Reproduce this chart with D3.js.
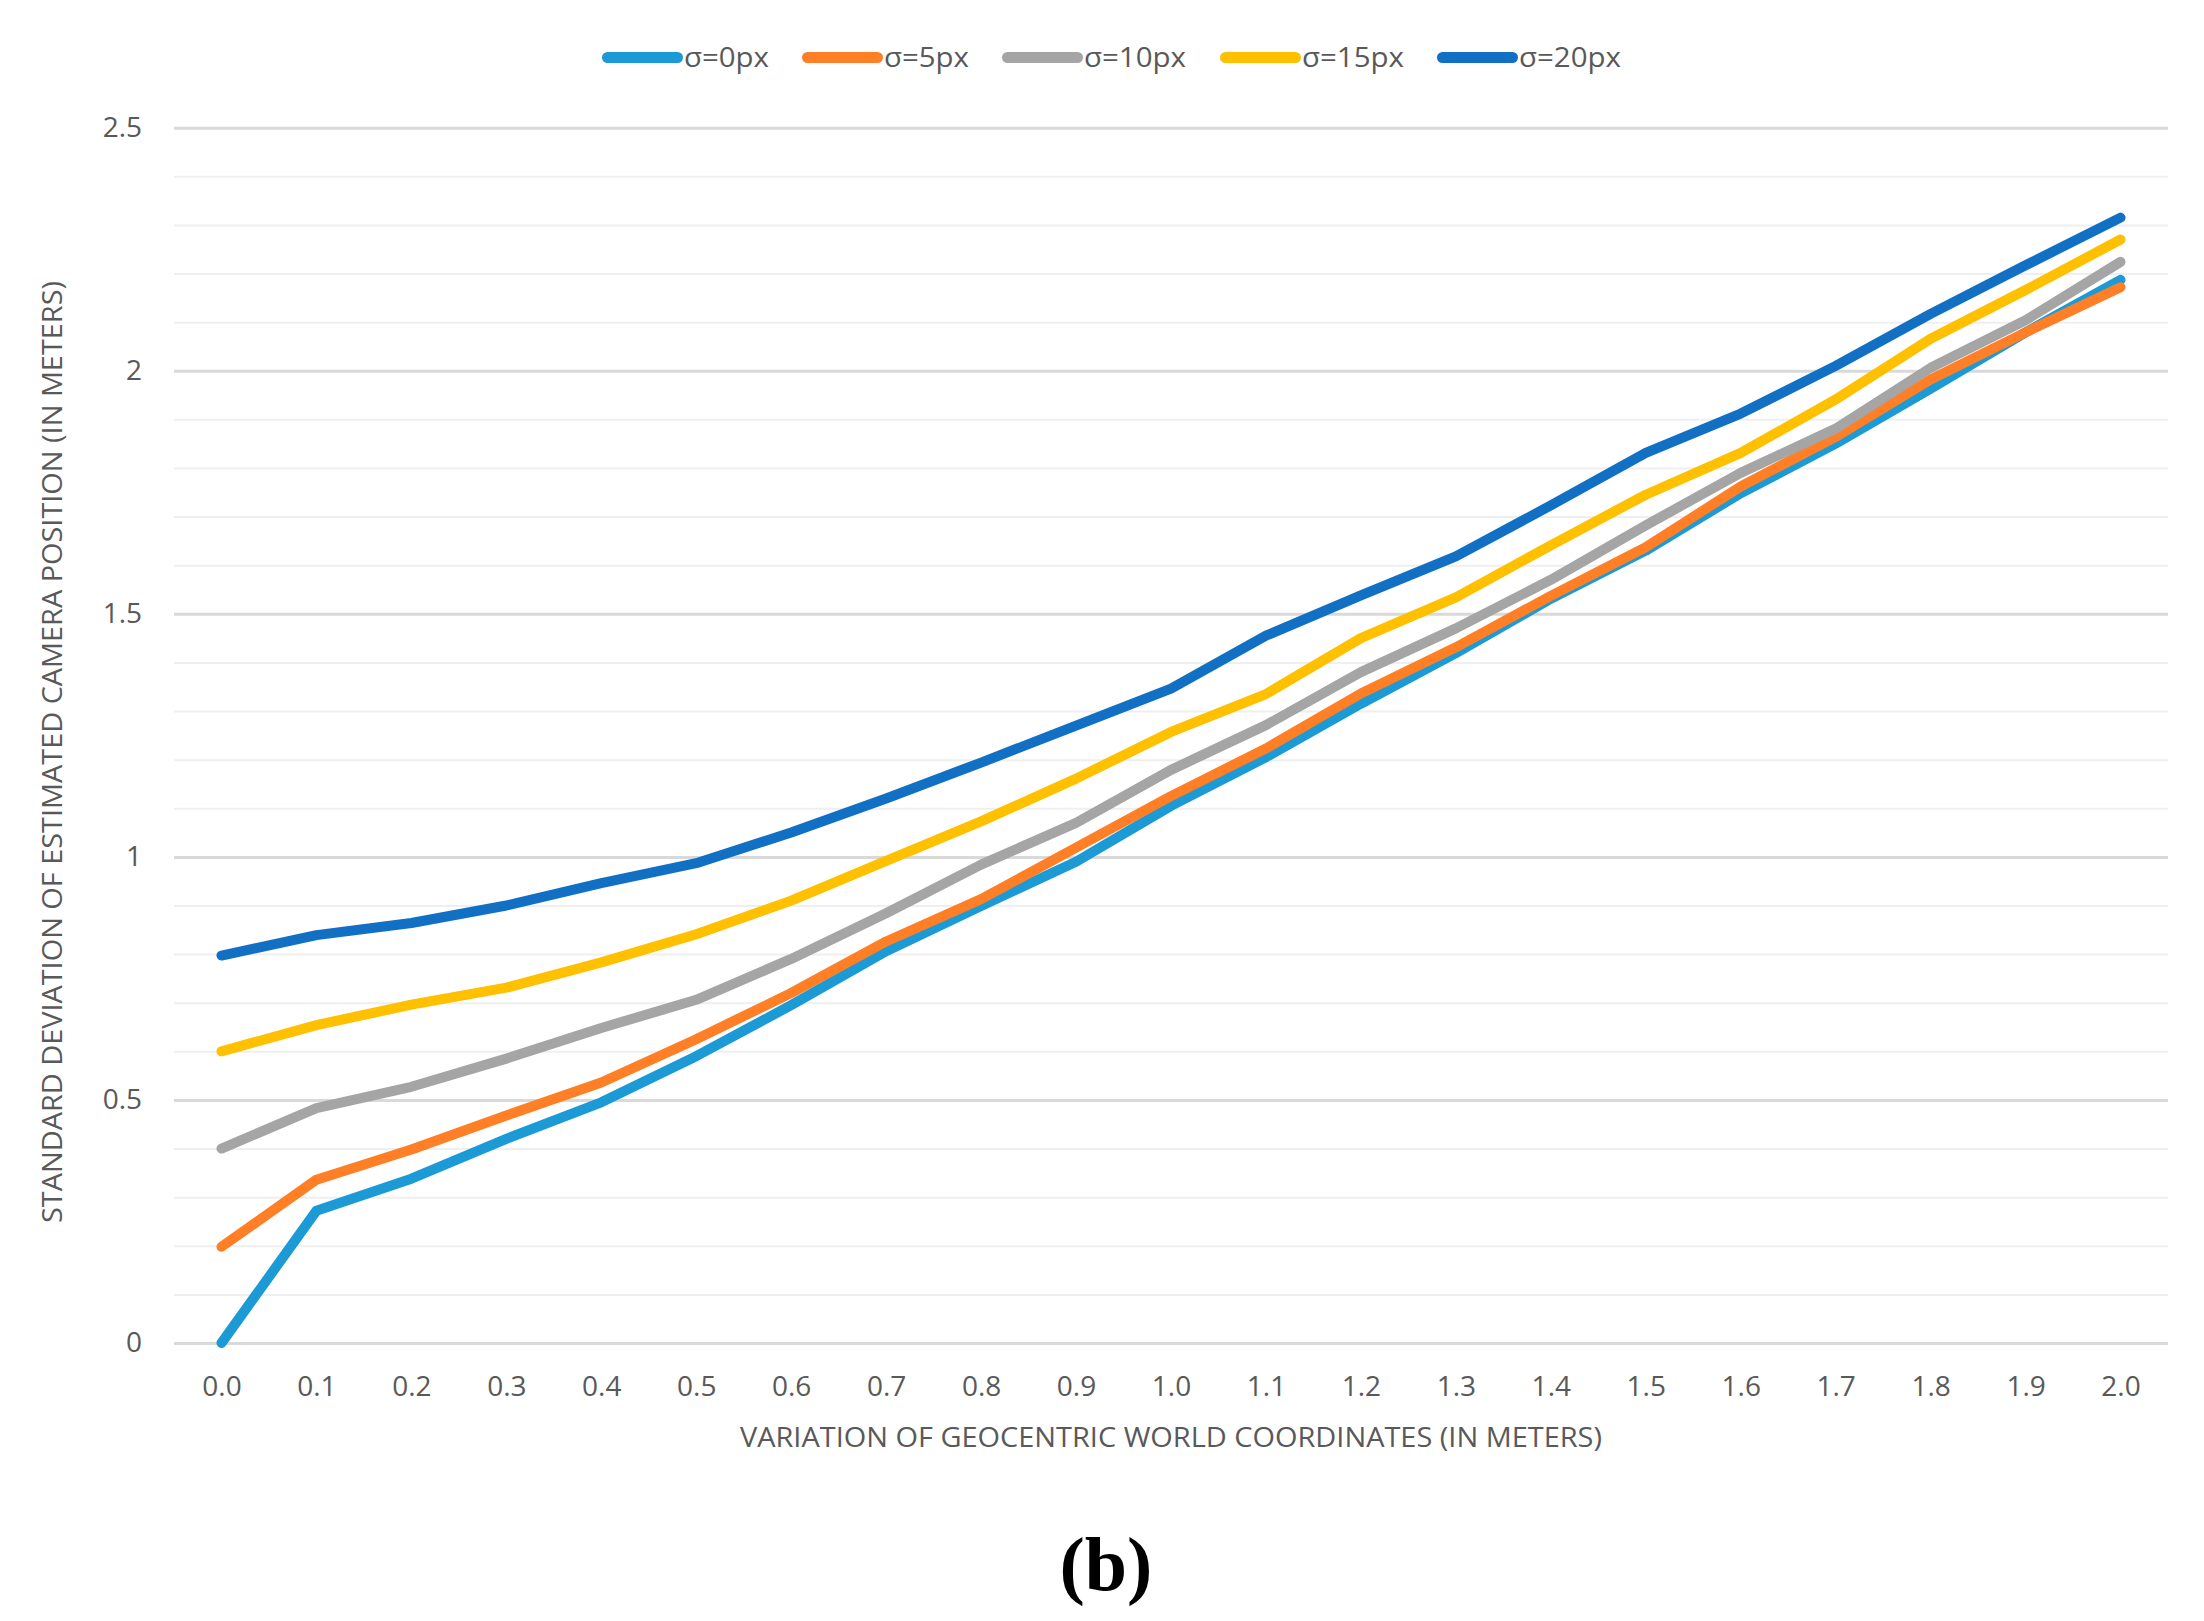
<!DOCTYPE html>
<html>
<head>
<meta charset="utf-8">
<script src="https://cdn.jsdelivr.net/npm/d3@7"></script>
<style>
  html, body { margin: 0; padding: 0; background: #ffffff; }
  svg { display: block; }
</style>
</head>
<body>
<script>
// ---------- data ----------
const categories = ["0.0","0.1","0.2","0.3","0.4","0.5","0.6","0.7","0.8","0.9","1.0",
                    "1.1","1.2","1.3","1.4","1.5","1.6","1.7","1.8","1.9","2.0"];
const seriesNames = ["σ=0px", "σ=5px", "σ=10px", "σ=15px", "σ=20px"];
const sigma0  = [0, 0.272, 0.338, 0.42, 0.495, 0.59, 0.695, 0.806, 0.899, 0.99, 1.105, 1.205, 1.315, 1.419, 1.531, 1.630, 1.748, 1.850, 1.963, 2.079, 2.187];
const sigma5  = [0.198, 0.336, 0.398, 0.468, 0.536, 0.625, 0.72, 0.826, 0.913, 1.019, 1.125, 1.223, 1.336, 1.431, 1.537, 1.637, 1.762, 1.864, 1.982, 2.079, 2.172];
const sigma10 = [0.40, 0.483, 0.527, 0.585, 0.648, 0.706, 0.79, 0.884, 0.984, 1.07, 1.179, 1.271, 1.38, 1.47, 1.57, 1.682, 1.79, 1.881, 2.006, 2.104, 2.224];
const sigma15 = [0.60, 0.654, 0.696, 0.731, 0.783, 0.841, 0.91, 0.992, 1.073, 1.161, 1.257, 1.335, 1.45, 1.534, 1.641, 1.745, 1.831, 1.941, 2.066, 2.166, 2.27];
const sigma20 = [0.797, 0.839, 0.864, 0.90, 0.946, 0.987, 1.05, 1.12, 1.194, 1.27, 1.346, 1.455, 1.538, 1.618, 1.723, 1.831, 1.912, 2.01, 2.117, 2.217, 2.315];
const yMajorTicks = [0, 0.5, 1, 1.5, 2, 2.5];
const yMinorTicks = [0.1,0.2,0.3,0.4,0.6,0.7,0.8,0.9,1.1,1.2,1.3,1.4,1.6,1.7,1.8,1.9,2.1,2.2,2.3,2.4];
const xTitle = "VARIATION OF GEOCENTRIC WORLD COORDINATES (IN METERS)";
const yTitle = "STANDARD DEVIATION OF ESTIMATED CAMERA POSITION (IN METERS)";
const panelLabel = "(b)";

const allSeries = [sigma0, sigma5, sigma10, sigma15, sigma20];
const colors = ["#1b9ad6", "#ff7f27", "#a5a5a5", "#ffc000", "#1270c4"];

// ---------- layout ----------
const W = 2204, H = 1621;
const plot = { left: 174, right: 2168, top: 127.7, bottom: 1343 };
const FONT = "'Open Sans', 'Noto Sans', sans-serif";
const TEXT = "#595959";

const svg = d3.select("body").append("svg")
  .attr("width", W).attr("height", H)
  .attr("viewBox", `0 0 ${W} ${H}`);

svg.append("rect").attr("width", W).attr("height", H).attr("fill", "#fff");

const x = d3.scalePoint().domain(categories).range([plot.left, plot.right]).padding(0.5);
const y = d3.scaleLinear().domain([0, 2.5]).range([plot.bottom, plot.top]);

// minor gridlines
svg.append("g")
  .attr("transform", `translate(${plot.left},0)`)
  .call(d3.axisLeft(y).tickValues(yMinorTicks).tickSize(-(plot.right - plot.left)).tickFormat(""))
  .call(g => g.select(".domain").remove())
  .call(g => g.selectAll("line").attr("stroke", "#efefef").attr("stroke-width", 2));

// major gridlines
svg.append("g")
  .attr("transform", `translate(${plot.left},0)`)
  .call(d3.axisLeft(y).tickValues(yMajorTicks).tickSize(-(plot.right - plot.left)).tickFormat(""))
  .call(g => g.select(".domain").remove())
  .call(g => g.selectAll("line").attr("stroke", "#d9d9d9").attr("stroke-width", 3));

// y tick labels
svg.append("g")
  .attr("transform", `translate(${plot.left},0)`)
  .call(d3.axisLeft(y).tickValues(yMajorTicks).tickSize(0).tickPadding(32).tickFormat(d3.format("~g")))
  .call(g => g.select(".domain").remove())
  .call(g => g.selectAll("text").attr("fill", TEXT).attr("font-size", 28).attr("font-family", FONT));

// x tick labels
svg.append("g")
  .attr("transform", `translate(0,${plot.bottom})`)
  .call(d3.axisBottom(x).tickSize(0).tickPadding(33))
  .call(g => g.select(".domain").remove())
  .call(g => g.selectAll("text").attr("fill", TEXT).attr("font-size", 28).attr("font-family", FONT));

// lines
const line = d3.line()
  .x((d, i) => x(categories[i]))
  .y(d => y(d));

svg.append("g").selectAll("path")
  .data(allSeries)
  .join("path")
  .attr("d", d => line(d))
  .attr("fill", "none")
  .attr("stroke", (d, i) => colors[i])
  .attr("stroke-width", 10)
  .attr("stroke-linejoin", "round")
  .attr("stroke-linecap", "round");

// axis titles
svg.append("text")
  .attr("x", (plot.left + plot.right) / 2)
  .attr("y", 1447)
  .attr("text-anchor", "middle")
  .attr("font-family", FONT).attr("font-size", 27).attr("fill", TEXT)
  .attr("textLength", 862).attr("lengthAdjust", "spacingAndGlyphs")
  .text(xTitle);

svg.append("text")
  .attr("transform", `translate(62,${752}) rotate(-90)`)
  .attr("text-anchor", "middle")
  .attr("font-family", FONT).attr("font-size", 27).attr("fill", TEXT)
  .attr("textLength", 942).attr("lengthAdjust", "spacingAndGlyphs")
  .text(yTitle);

// legend
const legendX = [602, 802, 1002, 1220, 1437];
const legendTextW = [85, 85, 102, 102, 102];
const legendY = 57.5;
const lg = svg.append("g");
seriesNames.forEach((name, i) => {
  const gx = legendX[i];
  lg.append("line")
    .attr("x1", gx + 5.5).attr("x2", gx + 81 - 5.5)
    .attr("y1", legendY).attr("y2", legendY)
    .attr("stroke", colors[i]).attr("stroke-width", 11).attr("stroke-linecap", "round");
  lg.append("text")
    .attr("x", gx + 82).attr("y", legendY + 9.5)
    .attr("font-family", FONT).attr("font-size", 27).attr("fill", TEXT)
    .attr("textLength", legendTextW[i]).attr("lengthAdjust", "spacingAndGlyphs")
    .text(name);
});

// panel label
svg.append("text")
  .attr("x", 1106).attr("y", 1590)
  .attr("text-anchor", "middle")
  .attr("font-family", "'Liberation Serif', 'Times New Roman', serif")
  .attr("font-weight", "bold").attr("font-size", 76).attr("fill", "#000")
  .text(panelLabel);
</script>
</body>
</html>
